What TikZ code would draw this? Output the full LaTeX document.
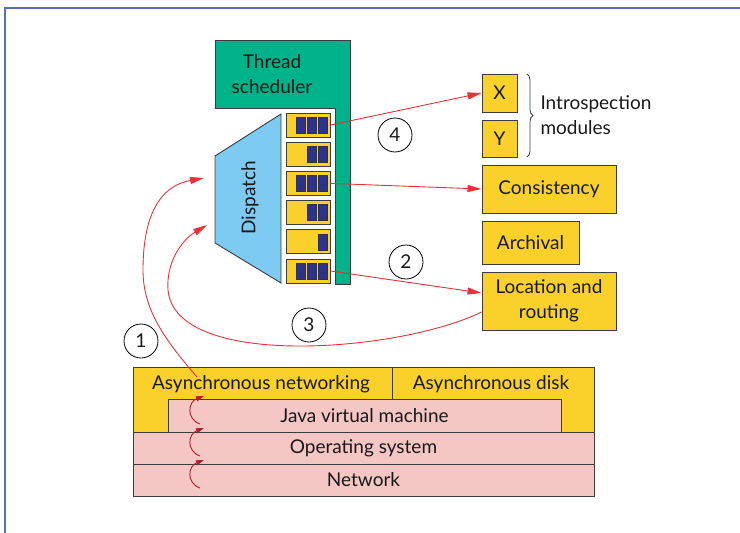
\documentclass[tikz,border=0pt]{standalone}
\usepackage{fontspec}
\setmainfont{Lato}
\usepackage{xcolor}
\usetikzlibrary{arrows.meta,shapes,positioning}
\usetikzlibrary{decorations.pathreplacing}
\definecolor{schedgreen}{RGB}{0,178,137}
\definecolor{modyellow}{RGB}{249,209,42}
\definecolor{layerpink}{RGB}{244,198,196}
\definecolor{dispblue}{RGB}{125,202,242}
\definecolor{slotblue}{RGB}{44,50,145}
\definecolor{flowred}{RGB}{232,50,56}
\definecolor{darkred}{RGB}{178,31,45}
\definecolor{frameblue}{RGB}{90,114,181}
\definecolor{edge}{RGB}{60,60,60}
\tikzstyle{txt} = [font=\fontsize{19}{25}\selectfont, text=black!90]
\tikzstyle{module} = [txt, draw=edge, fill=modyellow, line width=0.9pt, inner sep=0pt]
\tikzstyle{layer} = [txt, draw=edge, fill=layerpink, line width=0.9pt, inner sep=0pt, minimum height=32pt]
\tikzstyle{slot} = [draw=edge, fill=modyellow, line width=0.8pt, minimum width=44pt, minimum height=24pt, inner sep=0pt]
\tikzstyle{stepno} = [txt, draw=black, circle, line width=0.8pt, minimum size=34pt, inner sep=0pt]
\tikzstyle{arrow} = [flowred, line width=0.9pt, -{Triangle[length=14pt,width=7pt]}]
\tikzstyle{uparrow} = [darkred, line width=0.9pt, -{Triangle[length=8pt,width=5pt]}]

\begin{document}
\begin{tikzpicture}[x=1pt,y=-1pt]
                    \useasboundingbox (0,0) rectangle (740,533);
                    \draw [frameblue, line width=2.5pt] (5,533) -- (5,8) -- (740,8);
                    % thread scheduler and dispatch
                    \draw [draw=edge, fill=schedgreen, line width=0.9pt] (215,40) -- (350,40) -- (350,284) -- (335,284) -- (335,108) -- (215,108) -- cycle;
                    \node [txt, align=center] (sched) at (272,74) {Thread\\scheduler};
                    \draw [draw=edge, fill=dispblue, line width=0.9pt] (215,156) -- (281,114) -- (281,283) -- (215,243) -- cycle;
                    \node [txt, rotate=90] (disp) at (250,198) {Dispatch};
                    \coordinate (dispin1) at (204,178);
                    \coordinate (dispin3) at (207,225);
                    \foreach \i/\n in {0/3,1/2,2/3,3/2,4/1,5/3} {
                        \node [slot] (q\i) at (308,125+29.2*\i) {};
                        \foreach \k in {1,...,\n}
                            \filldraw [fill=slotblue, draw=black!80, line width=0.5pt] (329-11*\k,117+29.2*\i) rectangle (338-11*\k,133+29.2*\i);
                    }
                    % modules
                    \node [module, minimum width=35pt, minimum height=38pt] (x) at (499.5,93) {X};
                    \node [module, minimum width=35pt, minimum height=37pt] (y) at (499.5,138.5) {Y};
                    \node [module, minimum width=134pt, minimum height=48pt] (cons) at (549,189) {Consistency};
                    \node [module, minimum width=97pt, minimum height=43pt] (arch) at (530.5,242.5) {Archival};
                    \node [module, minimum width=134pt, minimum height=58pt, align=center] (loc) at (549,301) {Location and\\routing};
                    \draw [edge, line width=0.8pt, decorate, decoration={brace, amplitude=6pt}] (527,74) -- (527,157);
                    \node [txt, anchor=west, align=left] (intro) at (537,115) {Introspection\\modules};
                    % layers
                    \draw [draw=edge, fill=modyellow, line width=0.9pt] (133,367) rectangle (594,432);
                    \draw [edge, line width=0.9pt] (392,367) -- (392,399);
                    \node [txt] (asnet) at (261,384) {Asynchronous networking};
                    \node [txt] (asdisk) at (491,384) {Asynchronous disk};
                    \node [layer, minimum width=393pt, minimum height=33pt] (jvm) at (364.5,415.5) {Java virtual machine};
                    \node [layer, minimum width=461pt] (os) at (363.5,448) {Operating system};
                    \node [layer, minimum width=461pt] (net) at (363.5,480) {Network};
                    \foreach \b in {496,464,432}
                        \draw [uparrow] (200,\b-8) .. controls (186,\b-13) and (188,\b-30) .. (204,\b-36);
                    % flows
                    \coordinate (netout) at (197,377);
                    \draw [arrow] (q0.east) -- (x.west);
                    \draw [arrow] (q2.east) -- (cons.west);
                    \draw [arrow] (q5.east) -- ([yshift=8pt]loc.west);
                    \draw [arrow] ([yshift=-11pt]loc.west) .. controls (400,352) and (175,370) .. (168,290) .. controls (166,262) and (182,240) .. (dispin3);
                    \draw [arrow] (netout) .. controls (165,340) and (143,310) .. (143,270) .. controls (143,215) and (160,186) .. (dispin1);
                    \node [stepno] (s1) at (141,341) {1};
                    \node [stepno] (s2) at (406,262) {2};
                    \node [stepno] (s3) at (309,325) {3};
                    \node [stepno] (s4) at (395,135) {4};
                \end{tikzpicture}
\end{document}
